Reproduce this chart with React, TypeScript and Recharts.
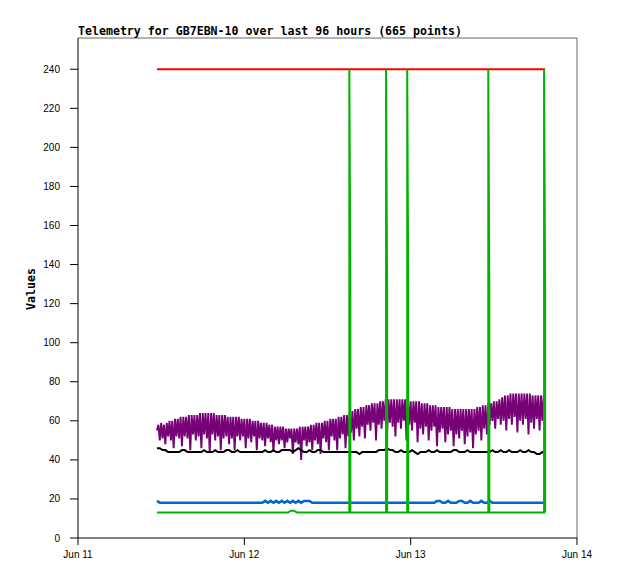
import { Line, LineChart, ReferenceLine, XAxis, YAxis } from 'recharts';

// telemetry samples start at Jun 11 11:24 (hours since Jun 11 00:00)
const T0 = 11.4;
const STEP = 0.4; // black / blue sample step
const PSTEP = 0.2; // purple sample step

const purple = [
  55, 58, 50, 59, 51, 58, 48, 59, 52, 60,
  50, 60, 46, 61, 52, 61, 51, 62, 47, 62,
  52, 62, 51, 63, 45, 63, 53, 63, 50, 63,
  52, 64, 46, 64, 53, 64, 51, 64, 44, 64,
  53, 64, 50, 63, 52, 63, 45, 63, 51, 63,
  52, 62, 48, 62, 51, 62, 45, 62, 52, 62,
  50, 61, 52, 61, 46, 61, 51, 61, 49, 60,
  52, 60, 45, 60, 51, 59, 50, 59, 47, 59,
  51, 58, 49, 58, 44, 57, 50, 57, 48, 57,
  50, 57, 46, 56, 49, 56, 51, 56, 43, 56,
  49, 56, 48, 57, 40, 57, 50, 57, 47, 57,
  49, 58, 45, 58, 50, 59, 48, 59, 43, 59,
  51, 60, 49, 60, 45, 61, 52, 61, 50, 61,
  45, 62, 51, 62, 53, 63, 46, 63, 52, 64,
  54, 65, 50, 66, 56, 66, 52, 67, 57, 67,
  51, 68, 58, 68, 55, 69, 59, 69, 50, 69,
  58, 70, 56, 70, 60, 71, 54, 71, 59, 71,
  57, 71, 52, 71, 59, 71, 56, 71, 60, 71,
  50, 71, 58, 70, 55, 70, 59, 70, 49, 70,
  56, 69, 53, 69, 57, 69, 50, 68, 55, 68,
  57, 68, 47, 67, 54, 67, 56, 67, 49, 67,
  53, 67, 55, 66, 47, 66, 53, 66, 51, 66,
  55, 66, 48, 66, 52, 66, 54, 66, 46, 66,
  53, 67, 55, 67, 50, 68, 56, 68, 53, 69,
  58, 69, 60, 70, 56, 70, 61, 71, 58, 72,
  60, 73, 55, 73, 61, 74, 58, 74, 62, 74,
  54, 74, 60, 74, 58, 74, 61, 74, 53, 74,
  59, 73, 56, 73, 61, 73, 55, 73, 60, 73,
  63,
];

const black = [
  46, 46, 45, 45, 44, 44, 44, 44, 44, 45,
  45, 44, 44, 44, 44, 44, 44, 45, 44, 44,
  44, 45, 44, 44, 44, 45, 45, 44, 44, 45,
  44, 44, 44, 44, 44, 44, 44, 44, 44, 45,
  44, 44, 45, 44, 44, 45, 45, 45, 45, 44,
  45, 46, 45, 44, 44, 45, 44, 44, 45, 45,
  44, 44, 44, 44, 44, 44, 44, 44, 44, 44,
  44, 44, 44, 43, 44, 44, 44, 44, 44, 44,
  45, 45, 45, 46, 45, 45, 44, 44, 45, 44,
  44, 44, 45, 44, 43, 44, 44, 44, 45, 44,
  44, 45, 44, 44, 44, 44, 44, 45, 45, 44,
  44, 44, 45, 44, 44, 44, 44, 44, 44, 44,
  44, 45, 44, 44, 45, 44, 44, 45, 44, 44,
  44, 45, 44, 44, 45, 44, 44, 43, 43, 44,
  44,
];

const blue = [
  19, 18, 18, 18, 18, 18, 18, 18, 18, 18,
  18, 18, 18, 18, 18, 18, 18, 18, 18, 18,
  18, 18, 18, 18, 18, 18, 18, 18, 18, 18,
  18, 18, 18, 18, 18, 18, 18, 18, 18, 19,
  18, 19, 18, 19, 18, 19, 18, 19, 18, 19,
  18, 19, 18, 19, 19, 19, 18, 18, 18, 18,
  18, 18, 18, 18, 18, 18, 18, 18, 18, 18,
  18, 18, 18, 18, 18, 18, 18, 18, 18, 18,
  18, 18, 18, 18, 18, 18, 18, 18, 18, 18,
  18, 18, 18, 18, 18, 18, 18, 18, 18, 18,
  18, 19, 19, 18, 18, 19, 18, 18, 18, 19,
  19, 18, 18, 19, 18, 18, 18, 19, 18, 18,
  19, 18, 18, 18, 18, 18, 18, 18, 18, 18,
  18, 18, 18, 18, 18, 18, 18, 18, 18, 18,
  18,
];

const redT = [11.4, 67.4];
const redV = [240, 240];

const greenT = [
  11.4, 30.3, 30.73, 31.16, 31.6,
  39.15, 39.15, 39.3, 39.3,
  44.45, 44.45, 44.6, 44.6,
  47.5, 47.5, 47.65, 47.65,
  59.2, 59.2, 59.35, 59.35,
  67.25, 67.25, 67.4, 67.4,
];
const greenV = [
  13, 13, 14, 14, 13,
  13, 240, 126, 13,
  13, 240, 126, 13,
  13, 240, 126, 13,
  13, 240, 126, 13,
  13, 240, 126, 13,
];

const yTicks = [0, 20, 40, 60, 80, 100, 120, 140, 160, 180, 200, 220, 240];
const xTicks = [0, 24, 48, 72];
const dayLabels = ['Jun 11', 'Jun 12', 'Jun 13', 'Jun 14'];

const rows = black.map((b, i) => ({ t: T0 + i * STEP, black: b, blue: blue[i] }));
const purpleData = purple.map((v, i) => ({ t: T0 + i * PSTEP, v }));
const redData = redT.map((t, i) => ({ t, v: redV[i] }));
const greenData = greenT.map((t, i) => ({ t, v: greenV[i] }));

const tickFont = { fontSize: 10, fill: '#000', fontFamily: '"Liberation Sans", Arial, sans-serif' };
const monoBold = '"DejaVu Sans Mono", monospace';

export default function App() {
  return (
    <div style={{ position: 'absolute', left: 0, top: 0, width: 618, height: 579, background: '#fff' }}>
      <LineChart
        width={618}
        height={579}
        data={rows}
        margin={{ top: 38, right: 41, bottom: 11, left: 0 }}
      >
        <XAxis
          type="number"
          dataKey="t"
          domain={[0, 72]}
          ticks={xTicks}
          tickFormatter={(v: number) => dayLabels[xTicks.indexOf(v)] ?? ''}
          height={30}
          tickSize={7}
          tickMargin={6}
          tick={tickFont}
          axisLine={{ stroke: '#000' }}
          tickLine={{ stroke: '#000' }}
          allowDataOverflow
        />
        <YAxis
          type="number"
          domain={[0, 256]}
          ticks={yTicks}
          width={78}
          tickSize={8}
          tickMargin={10}
          tick={tickFont}
          axisLine={{ stroke: '#000' }}
          tickLine={{ stroke: '#000' }}
          allowDataOverflow
        />
        <ReferenceLine y={256} stroke="#666" />
        <ReferenceLine x={72} stroke="#666" />
        <Line type="linear" data={purpleData} dataKey="v" stroke="#770077" strokeWidth={1.9} dot={false} isAnimationActive={false} />
        <Line type="linear" dataKey="black" stroke="#000" strokeWidth={2} dot={false} isAnimationActive={false} />
        <Line type="linear" dataKey="blue" stroke="#0066cc" strokeWidth={2.5} dot={false} isAnimationActive={false} />
        <Line type="linear" data={redData} dataKey="v" stroke="#ff0000" strokeWidth={2} dot={false} isAnimationActive={false} />
        <Line type="linear" data={greenData} dataKey="v" stroke="#00b300" strokeWidth={2} dot={false} isAnimationActive={false} />
      </LineChart>
      <svg width={618} height={579} style={{ position: 'absolute', left: 0, top: 0, pointerEvents: 'none' }}>
        <text x={78} y={35} fontFamily={monoBold} fontWeight="bold" fontSize={11.6} fill="#000">
          Telemetry for GB7EBN-10 over last 96 hours (665 points)
        </text>
        <text
          x={35}
          y={289}
          transform="rotate(-90, 35, 289)"
          textAnchor="middle"
          fontFamily={monoBold}
          fontWeight="bold"
          fontSize={11.6}
          fill="#000"
        >
          Values
        </text>
      </svg>
    </div>
  );
}
